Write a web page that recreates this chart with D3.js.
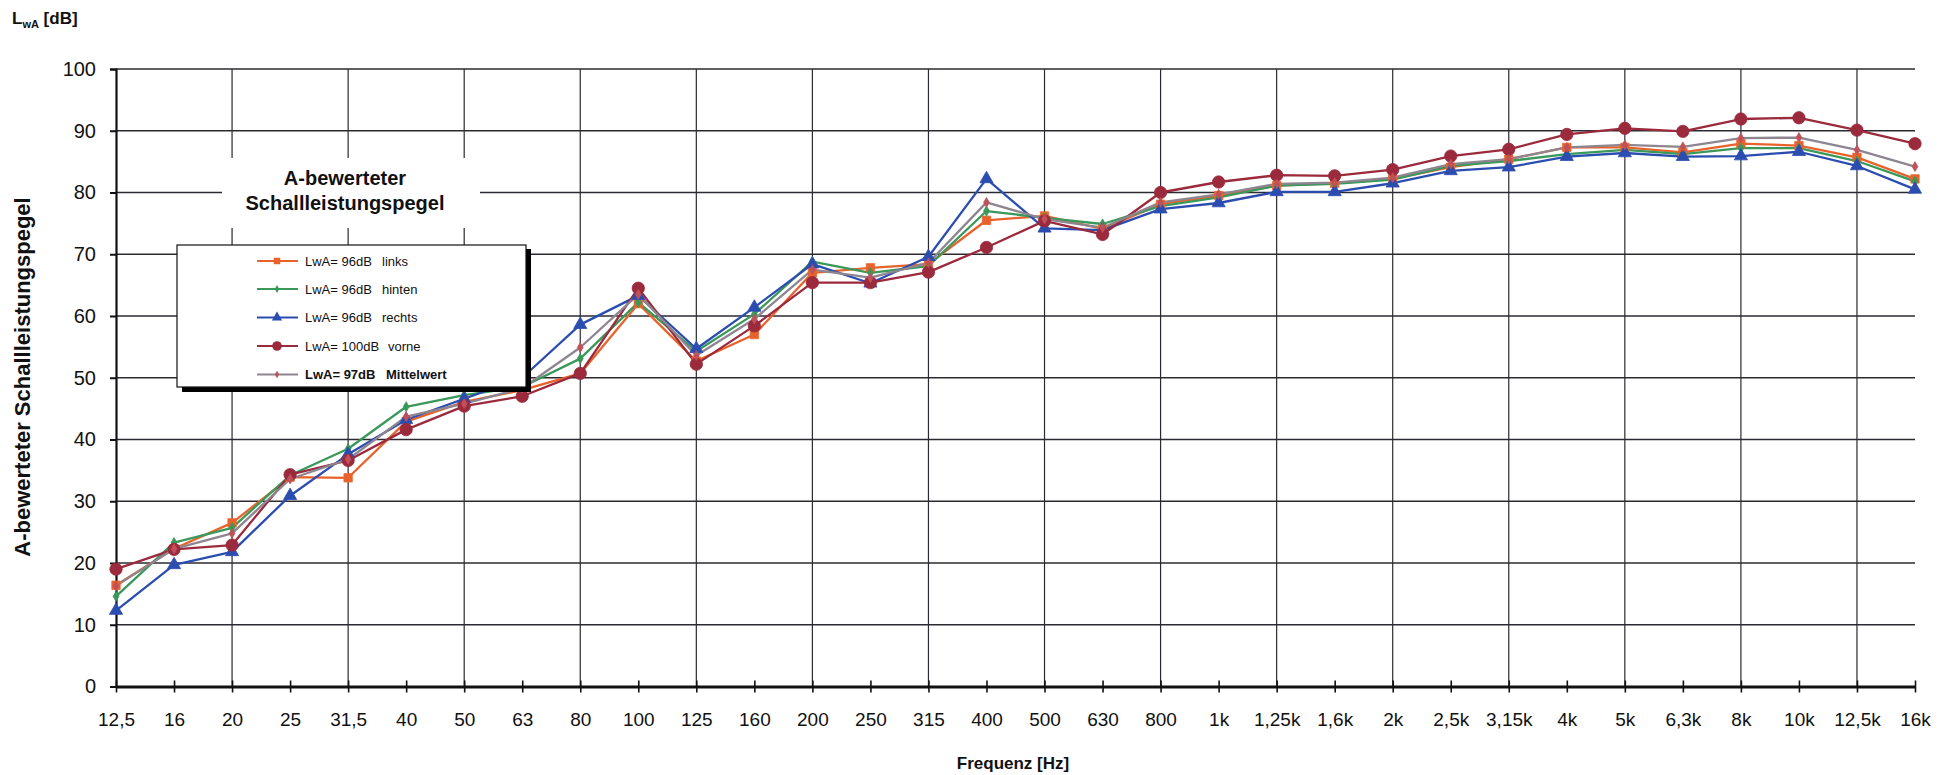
<!DOCTYPE html>
<html><head><meta charset="utf-8">
<script src="https://cdn.jsdelivr.net/npm/d3@7"></script>
<style>
html,body{margin:0;padding:0;background:#fff;}
svg{display:block;font-family:"Liberation Sans",Arial,sans-serif;}
</style></head>
<body>
<svg id="chart" width="1954" height="775"></svg>
<script>
const categories = ["12,5","16","20","25","31,5","40","50","63","80","100","125","160","200","250","315","400","500","630","800","1k","1,25k","1,6k","2k","2,5k","3,15k","4k","5k","6,3k","8k","10k","12,5k","16k"];
const yTicks = [0,10,20,30,40,50,60,70,80,90,100];
const links  = [16.4,22.3,26.5,33.9,33.8,42.9,46.1,48.0,50.7,62.0,52.7,57.0,67.0,67.8,68.4,75.5,76.2,74.1,78.1,79.5,81.1,81.5,82.2,84.1,85.4,87.3,87.3,86.5,87.9,87.6,85.7,82.2];
const hinten = [14.6,23.3,25.7,34.2,38.5,45.3,47.2,48.5,53.1,62.2,54.3,60.3,68.8,67.0,68.1,77.0,75.9,74.9,77.8,79.2,81.1,81.4,82.1,84.3,85.1,86.2,86.9,86.2,87.2,87.2,85.1,81.8];
const rechts = [12.3,19.7,21.8,30.9,37.6,43.2,46.6,50.0,58.6,63.3,54.7,61.4,68.4,65.3,69.6,82.2,74.2,73.9,77.3,78.3,80.1,80.1,81.5,83.5,84.1,85.8,86.4,85.8,85.9,86.6,84.3,80.5];
const vorne  = [19.0,22.2,22.9,34.3,36.6,41.6,45.4,47.0,50.7,64.5,52.2,58.4,65.4,65.4,67.1,71.1,75.4,73.2,80.0,81.7,82.8,82.7,83.7,85.9,87.0,89.4,90.4,89.9,91.9,92.1,90.1,87.9];
const mittel = [16.3,22.3,24.8,33.6,36.8,43.7,45.8,48.3,54.9,63.5,53.6,59.5,67.5,66.2,68.6,78.4,75.7,74.3,78.4,79.7,81.4,81.6,82.4,84.6,85.4,87.3,87.7,87.4,88.8,88.9,86.9,84.2];
const seriesNames = ["LwA= 96dB","LwA= 96dB","LwA= 96dB","LwA= 100dB","LwA= 97dB"];
const seriesLabels = ["links","hinten","rechts","vorne","Mittelwert"];

const series = [
  {name:seriesNames[0], label:seriesLabels[0], values:links,  line:"#e8632c", fill:"#e8632c", sym:d3.symbolSquare,   size:70, bold:false},
  {name:seriesNames[1], label:seriesLabels[1], values:hinten, line:"#3a985a", fill:"#3a985a", sym:d3.symbolDiamond,  size:30, bold:false},
  {name:seriesNames[2], label:seriesLabels[2], values:rechts, line:"#2c4db0", fill:"#2c4db0", sym:d3.symbolTriangle, size:75, bold:false},
  {name:seriesNames[3], label:seriesLabels[3], values:vorne,  line:"#9a2a3c", fill:"#9a2a3c", sym:d3.symbolCircle,   size:120, bold:false},
  {name:seriesNames[4], label:seriesLabels[4], values:mittel, line:"#8d8590", fill:"#c0505a", sym:d3.symbolDiamond,  size:28, bold:true}
];

const svg = d3.select("#chart");
const x = d3.scalePoint().domain(categories).range([116, 1915]);
const y = d3.scaleLinear().domain([0,100]).range([686.5, 69]);

// horizontal gridlines
svg.append("g").selectAll("line").data(yTicks.filter(v=>v>0)).join("line")
  .attr("x1", x(categories[0])).attr("x2", x(categories[categories.length-1]))
  .attr("y1", d=>y(d)).attr("y2", d=>y(d))
  .attr("stroke","#2a2a30").attr("stroke-width",1.3);
// vertical gridlines every second category
svg.append("g").selectAll("line").data(categories.filter((c,i)=>i>0 && i%2===0)).join("line")
  .attr("x1", d=>x(d)).attr("x2", d=>x(d))
  .attr("y1", y(100)).attr("y2", y(0))
  .attr("stroke","#2a2a30").attr("stroke-width",1.2);

// Legend title background and text
svg.append("rect").attr("x",222).attr("y",158).attr("width",258).attr("height",70).attr("fill","#fff");
const lt = svg.append("text").attr("x",345).attr("text-anchor","middle")
  .attr("font-weight","bold").attr("font-size",20).attr("fill","#111");
lt.append("tspan").attr("x",345).attr("y",185).text("A-bewerteter");
lt.append("tspan").attr("x",345).attr("y",210).text("Schallleistungspegel");

// y axis
const yAxis = d3.axisLeft(y).tickValues(yTicks).tickSize(6).tickPadding(14).tickFormat(d3.format("d"));
const gy = svg.append("g").attr("transform",`translate(${x(categories[0])},0)`).call(yAxis);
gy.select(".domain").attr("stroke","#111").attr("stroke-width",2.2);
gy.selectAll(".tick line").attr("stroke","#111").attr("stroke-width",2);
gy.selectAll(".tick text").attr("font-size",20).attr("fill","#111").attr("font-family","Liberation Sans, Arial, sans-serif");

// x axis
const xAxis = d3.axisBottom(x).tickSizeInner(6).tickSizeOuter(0).tickPadding(20);
const gx = svg.append("g").attr("transform",`translate(0,${y(0)})`).call(xAxis);
gx.select(".domain").attr("stroke","#111").attr("stroke-width",3);
gx.selectAll(".tick line").attr("stroke","#111").attr("stroke-width",1.6).attr("y1",-6);
gx.selectAll(".tick text").attr("font-size",19).attr("fill","#111").attr("font-family","Liberation Sans, Arial, sans-serif");

// series lines and markers
const line = d3.line().x((d,i)=>x(categories[i])).y(d=>y(d));
series.forEach(s=>{
  svg.append("path").datum(s.values).attr("d",line)
    .attr("fill","none").attr("stroke",s.line).attr("stroke-width",2.3).attr("stroke-linejoin","round");
});
series.forEach(s=>{
  svg.append("g").selectAll("path").data(s.values).join("path")
    .attr("transform",(d,i)=>`translate(${x(categories[i])},${y(d)})`)
    .attr("d", d3.symbol().type(s.sym).size(s.size))
    .attr("fill",s.fill).attr("stroke",s.fill).attr("stroke-width",0.8);
});

// legend box with shadow
const lg = svg.append("g");
lg.append("rect").attr("x",182).attr("y",249).attr("width",349).attr("height",143).attr("fill","#000");
lg.append("rect").attr("x",177).attr("y",245).attr("width",349).attr("height",142).attr("fill","#fff").attr("stroke","#111").attr("stroke-width",1.2);
const rowY = [261,289,317.5,346,374.5];
series.forEach((s,i)=>{
  const ry = rowY[i];
  lg.append("line").attr("x1",257).attr("x2",298).attr("y1",ry).attr("y2",ry).attr("stroke",s.line).attr("stroke-width",2);
  lg.append("path").attr("transform",`translate(277,${ry})`)
    .attr("d", d3.symbol().type(s.sym).size(s.size*0.6)).attr("fill",s.fill);
  lg.append("text").attr("x",305).attr("y",ry+4.5).attr("font-size",13).attr("fill","#111")
    .attr("font-weight", s.bold?"bold":"normal").text(s.name);
  lg.append("text").attr("x", i===3?388:(i===4?386:382)).attr("y",ry+4.5).attr("font-size",13).attr("fill","#111")
    .attr("font-weight", s.bold?"bold":"normal").text(s.label);
});

// axis titles
const tl = svg.append("text").attr("x",12).attr("y",24).attr("font-weight","bold").attr("font-size",17).attr("fill","#111");
tl.append("tspan").text("L");
tl.append("tspan").attr("font-size",11).attr("dy",4).text("wA");
tl.append("tspan").attr("dy",-4).text(" [dB]");

svg.append("text").attr("transform","translate(30,377) rotate(-90)").attr("text-anchor","middle")
  .attr("font-weight","bold").attr("font-size",22).attr("fill","#111").text("A-bewerteter Schallleistungspegel");

svg.append("text").attr("x",1013).attr("y",769).attr("text-anchor","middle")
  .attr("font-weight","bold").attr("font-size",17).attr("fill","#111").text("Frequenz [Hz]");
</script>
</body></html>
